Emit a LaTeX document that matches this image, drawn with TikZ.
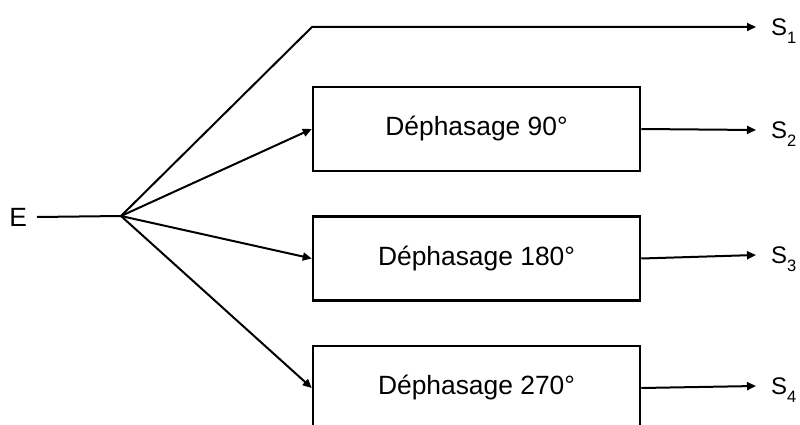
\documentclass[tikz,border=0pt]{standalone}
\usepackage{fontspec}
\setmainfont{Liberation Sans}
\usepackage{tikz}
\usetikzlibrary{arrows.meta,positioning}
\newcommand{\sortie}[1]{S\raisebox{-8pt}{\fontsize{16.5}{18}\selectfont #1}}

\begin{document}
\begin{tikzpicture}[
  x=1pt,y=-1pt,
  node distance=43pt,
  box/.style={draw,line width=2.5pt,minimum width=327pt,minimum height=84pt,inner sep=0pt,font=\fontsize{26.4}{30}\selectfont},
  slabel/.style={anchor=west,outer sep=0pt,inner xsep=15pt,inner ysep=0pt,text height=17pt,text depth=0pt,font=\fontsize{24}{28}\selectfont},
  arrow/.style={-{Triangle[length=9pt,width=8pt]},line width=2pt}
]
\useasboundingbox (0,0) rectangle (800,425);
\clip (0,0) rectangle (800,425);
\node[slabel,anchor=east,inner xsep=10pt,text height=19pt,font=\fontsize{26.4}{30}\selectfont] (in) at (37,217) {E};
\coordinate (split) at (121,216);
\coordinate (bend) at (312,27);
\node[box] (ph90) at (476.5,129) {Déphasage 90°};
\node[box,below=of ph90] (ph180) {Déphasage 180°};
\node[box,below=of ph180] (ph270) {Déphasage 270°};
\node[slabel] (s1) at (756,27) {\sortie{1}};
\node[slabel] (s2) at (756,130) {\sortie{2}};
\node[slabel] (s3) at (756,255) {\sortie{3}};
\node[slabel] (s4) at (756,386) {\sortie{4}};
\draw[line width=2pt] (in.east) -- (split);
\draw[arrow] (split) -- (bend) -- (s1.west);
\draw[arrow] (split) -- (ph90.west);
\draw[arrow] (split) -- (ph180.west);
\draw[arrow] (split) -- (ph270.west);
\draw[arrow] (ph90.east) -- (s2.west);
\draw[arrow] (ph180.east) -- (s3.west);
\draw[arrow] (ph270.east) -- (s4.west);
\end{tikzpicture}
\end{document}
